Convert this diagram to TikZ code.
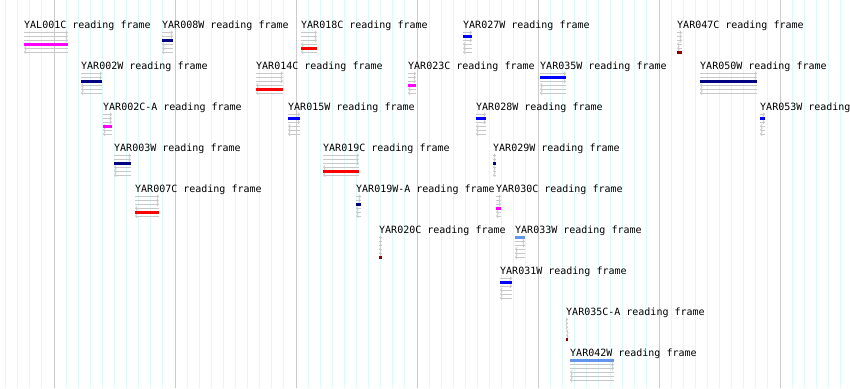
\documentclass[tikz,border=0pt]{standalone}
\usepackage{fontspec}
\setmonofont{DejaVu Sans Mono}
\usetikzlibrary{arrows.meta}

\definecolor{minorgrid}{HTML}{DDFAFA}
\definecolor{majorgrid}{HTML}{CCCCCC}
\definecolor{framegray}{HTML}{C8C8C8}
\definecolor{cdsnavy}{HTML}{000080}
\definecolor{cdsblue}{HTML}{0000FF}
\definecolor{cdsred}{HTML}{FF0000}
\definecolor{cdsmagenta}{HTML}{FF00FF}
\definecolor{cdsdarkred}{HTML}{8B0000}
\definecolor{cdscorn}{HTML}{6495ED}

\tikzset{
  orflabel/.style={anchor=base west, inner sep=0pt, font=\ttfamily\fontsize{10}{10}\selectfont},
  fwdframe/.style={draw=framegray, line width=.8pt, -{Straight Barb[length=1.6pt,width=3.6pt]}},
  revframe/.style={draw=framegray, line width=.8pt, {Straight Barb[length=1.6pt,width=3.6pt]}-},
  cdsbar/.style={line width=3pt},
}

% reading frame glyph: name, left x, right x, row y, bar colour, frame slot
\newcommand{\orfglyph}[6]{%
  \node[orflabel] (#1) at (#2,#4+4) {#1 reading frame};
  \draw[fwdframe] (#2,#4+8.5) -- (#3,#4+8.5);
  \draw[fwdframe] (#2,#4+12.4) -- (#3,#4+12.4);
  \draw[fwdframe] (#2,#4+16.3) -- (#3,#4+16.3);
  \draw[revframe] (#2,#4+20.2) -- (#3,#4+20.2);
  \draw[revframe] (#2,#4+24.1) -- (#3,#4+24.1);
  \draw[revframe] (#2,#4+28) -- (#3,#4+28);
  \draw[cdsbar,#5] (#2,#4+8.5+3.9*#6) -- (#3,#4+8.5+3.9*#6);
}

\begin{document}
\begin{tikzpicture}[x=1pt,y=-1pt]
\useasboundingbox (0,0) rectangle (850,388);
\clip (0,0) rectangle (850,388);
\fill[white] (0,0) rectangle (850,388);
% grid
\foreach \k in {-4,...,65}
  \draw[minorgrid, line width=1pt] (54+12.1*\k,0) -- (54+12.1*\k,388);
\foreach \k in {0,...,6}
  \draw[majorgrid, line width=1pt] (54+121*\k,0) -- (54+121*\k,388);

% row 1
\orfglyph{YAL001C}{24}{68}{24}{cdsmagenta}{3}
\orfglyph{YAR008W}{162}{173}{24}{cdsnavy}{2}
\orfglyph{YAR018C}{301}{317}{24}{cdsred}{4}
\orfglyph{YAR027W}{463}{472}{24}{cdsblue}{1}
\orfglyph{YAR047C}{677}{682}{24}{cdsdarkred}{5}
% row 2
\orfglyph{YAR002W}{81}{102}{65}{cdsnavy}{2}
\orfglyph{YAR014C}{256}{283}{65}{cdsred}{4}
\orfglyph{YAR023C}{408}{416}{65}{cdsmagenta}{3}
\orfglyph{YAR035W}{540}{566}{65}{cdsblue}{1}
\orfglyph{YAR050W}{700}{757}{65}{cdsnavy}{2}
% row 3
\orfglyph{YAR002C-A}{103}{112}{106}{cdsmagenta}{3}
\orfglyph{YAR015W}{288}{300}{106}{cdsblue}{1}
\orfglyph{YAR028W}{476}{486}{106}{cdsblue}{1}
\orfglyph{YAR053W}{760}{765}{106}{cdsblue}{1}
% row 4
\orfglyph{YAR003W}{114}{131}{147}{cdsnavy}{2}
\orfglyph{YAR019C}{323}{359}{147}{cdsred}{4}
\orfglyph{YAR029W}{493}{496}{147}{cdsnavy}{2}
% row 5
\orfglyph{YAR007C}{135}{159}{188}{cdsred}{4}
\orfglyph{YAR019W-A}{356}{361}{188}{cdsnavy}{2}
\orfglyph{YAR030C}{496}{501}{188}{cdsmagenta}{3}
% row 6
\orfglyph{YAR020C}{379}{382}{229}{cdsdarkred}{5}
\orfglyph{YAR033W}{515}{525}{229}{cdscorn}{0}
% row 7
\orfglyph{YAR031W}{500}{512}{270}{cdsblue}{1}
% row 8
\orfglyph{YAR035C-A}{566}{568}{311}{cdsdarkred}{5}
% row 9
\orfglyph{YAR042W}{570}{614}{352}{cdscorn}{0}
\end{tikzpicture}
\end{document}
